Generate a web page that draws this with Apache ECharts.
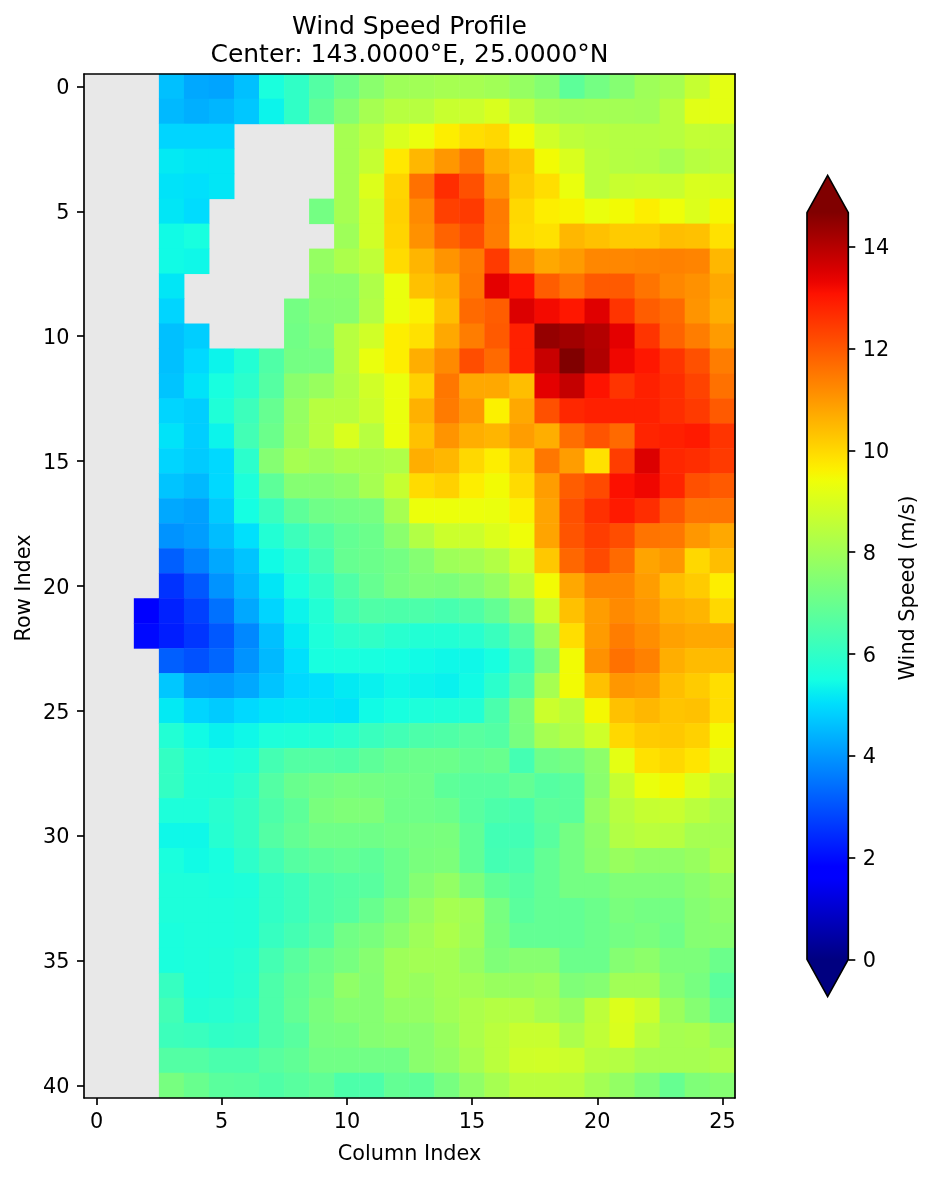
<!DOCTYPE html>
<html>
<head>
<meta charset="utf-8">
<title>Wind Speed Profile</title>
<script src="https://cdn.jsdelivr.net/npm/echarts@6/dist/echarts.min.js"></script>
<style>
html, body { margin: 0; padding: 0; background: #fff; }
#main { width: 932px; height: 1177px; }
</style>
</head>
<body>
<div id="main"></div>
<script>
var n = null;
var titleText = 'Wind Speed Profile\nCenter: 143.0000°E, 25.0000°N';
var xName = 'Column Index';
var yName = 'Row Index';
var barName = 'Wind Speed (m/s)';
var vmin = 0;
var vmax = 14.67;
var barTicks = [0, 2, 4, 6, 8, 10, 12, 14];
var columns = [];
for (var c = 0; c < 26; c++) columns.push(String(c));
var rowNames = [];
for (var r = 0; r < 41; r++) rowNames.push(String(r));

// wind speed by row (null = no data)
var windSpeed = [
  [n,n,n,4.6,4.25,4.2,4.6,5.6,6.0,6.6,7.1,7.6,7.95,8.0,8.1,8.1,8.0,7.8,7.5,6.8,7.2,7.5,7.95,8.1,8.65,9.2],
  [n,n,n,4.5,4.35,4.45,4.7,5.35,6.0,6.85,7.5,8.1,8.4,8.4,8.7,8.75,9.0,8.5,8.1,8.0,8.05,8.05,8.0,8.4,9.15,9.2],
  [n,n,n,4.9,4.9,4.9,n,n,n,n,8.1,8.5,9.0,9.3,9.65,9.9,10.0,9.45,8.85,8.5,8.4,8.35,8.35,8.4,8.6,8.55],
  [n,n,n,5.2,5.15,5.15,n,n,n,n,8.1,8.65,9.75,10.5,11.0,11.5,10.6,10.3,9.45,9.0,8.45,8.35,8.3,8.1,8.4,8.5],
  [n,n,n,5.1,5.05,5.15,n,n,n,n,8.1,9.05,10.05,11.6,12.65,12.1,11.05,10.2,9.9,9.3,8.45,8.7,8.75,8.7,9.0,8.95],
  [n,n,n,5.15,5.0,n,n,n,n,7.2,8.1,8.85,10.1,11.2,12.35,12.45,11.45,10.0,9.65,9.55,9.3,9.45,9.65,9.4,9.05,9.5],
  [n,n,n,5.45,5.55,n,n,n,n,n,7.95,8.85,10.05,11.1,11.8,12.15,11.4,9.95,9.85,10.5,10.35,10.2,10.2,10.4,10.35,9.85],
  [n,n,n,5.45,5.4,n,n,n,n,7.8,8.2,8.55,9.95,10.55,11.05,11.45,12.45,11.2,10.75,10.95,11.25,11.25,11.3,11.35,11.3,10.5],
  [n,n,n,5.15,n,n,n,n,n,7.6,7.6,8.25,9.3,10.35,10.6,11.5,13.4,13.05,11.9,11.55,11.95,11.95,11.55,11.25,11.1,10.75],
  [n,n,n,4.9,n,n,n,n,7.2,7.5,7.55,8.3,9.3,9.6,10.4,11.7,11.9,13.5,13.2,13.0,13.45,12.55,11.9,11.7,11.05,10.65],
  [n,n,n,4.6,4.8,n,n,n,7.15,7.4,8.4,8.85,9.65,9.85,10.75,11.4,11.95,12.85,14.4,14.25,14.0,13.4,12.55,11.8,11.4,10.95],
  [n,n,n,4.6,4.95,5.35,5.75,6.55,7.2,7.2,8.4,9.3,9.65,10.65,11.2,12.15,11.7,12.85,13.75,14.67,14.05,13.25,13.0,12.55,12.1,11.4],
  [n,n,n,4.65,5.1,5.55,5.9,6.65,7.6,7.85,8.3,8.85,9.3,10.1,11.5,10.75,10.75,10.4,13.4,13.8,13.05,12.55,12.85,12.65,12.3,11.6],
  [n,n,n,4.9,4.8,5.7,6.2,6.95,7.8,8.4,8.4,8.75,9.3,10.6,11.45,11.0,9.6,10.75,12.1,12.75,12.85,12.85,12.85,12.65,12.45,11.95],
  [n,n,n,5.1,4.8,5.35,6.3,7.05,7.85,8.4,9.0,8.4,9.3,10.35,11.05,10.65,10.55,10.9,10.65,11.65,12.05,11.7,12.8,12.85,12.95,12.55],
  [n,n,n,4.9,4.75,4.95,5.9,7.5,8.1,7.95,8.15,8.15,8.25,10.65,10.5,10.0,9.65,10.2,11.5,10.9,9.85,12.4,13.5,12.75,12.65,12.45],
  [n,n,n,4.65,4.5,4.95,5.65,6.8,7.5,7.5,7.65,8.1,8.65,9.95,10.1,9.65,9.45,9.95,10.9,11.9,12.2,13.1,13.25,12.8,12.1,11.95],
  [n,n,n,4.25,4.15,4.75,5.5,6.15,6.8,7.1,7.2,7.25,8.1,9.35,9.35,9.35,9.3,9.6,10.8,12.1,12.6,12.95,12.65,12.0,11.55,11.55],
  [n,n,n,3.95,4.1,4.55,5.05,5.75,6.2,6.55,6.9,7.05,7.6,8.3,8.75,8.75,9.05,9.4,10.8,12.05,12.4,12.15,11.55,11.5,11.0,10.75],
  [n,n,n,3.2,3.7,4.25,4.65,5.45,5.8,6.3,6.95,7.05,7.2,7.5,7.95,8.05,8.3,8.9,10.25,11.75,12.2,11.7,10.8,11.0,10.0,10.4],
  [n,n,n,2.55,3.1,3.95,4.5,5.15,5.6,6.0,6.55,6.95,7.25,7.4,7.35,7.5,7.8,8.4,9.45,10.75,11.3,11.3,10.9,10.4,10.2,9.65],
  [n,n,1.75,2.3,2.75,3.45,4.25,4.9,5.35,5.75,6.3,6.55,6.5,6.5,6.4,6.55,6.9,7.5,8.75,10.35,10.9,11.2,11.0,10.65,10.55,10.0],
  [n,n,1.95,2.25,2.6,3.1,3.8,4.6,5.2,5.65,5.9,6.0,5.85,5.75,5.75,5.85,6.15,6.7,7.95,9.9,10.95,11.4,11.15,10.85,10.75,10.75],
  [n,n,n,3.2,3.0,3.3,3.95,4.5,5.05,5.55,5.6,5.55,5.5,5.45,5.4,5.4,5.55,6.2,7.4,9.45,11.1,11.6,11.35,10.65,10.45,10.45],
  [n,n,n,4.7,4.1,4.05,4.25,4.65,4.95,5.05,5.2,5.3,5.4,5.35,5.3,5.45,5.9,6.6,8.1,9.45,10.35,11.0,10.9,10.4,10.2,9.9],
  [n,n,n,5.2,4.9,4.75,4.95,5.1,5.15,5.15,5.1,5.45,5.55,5.65,5.7,5.75,6.45,7.3,8.75,8.45,9.5,10.35,10.5,10.3,10.35,9.9],
  [n,n,n,5.75,5.45,5.3,5.4,5.65,5.7,5.75,5.9,6.15,6.3,6.5,6.55,6.7,6.6,7.25,8.1,8.3,8.8,10.0,10.2,10.25,10.1,9.5],
  [n,n,n,6.05,5.7,5.6,5.7,6.35,6.6,6.6,6.55,6.8,7.0,7.05,7.05,6.9,7.0,6.35,7.1,7.2,7.65,9.2,9.85,10.0,9.8,9.15],
  [n,n,n,6.05,5.7,5.7,5.95,6.6,7.0,7.15,7.25,7.2,7.15,7.1,6.8,6.7,6.7,6.9,6.65,6.75,7.6,8.65,9.3,9.5,9.05,8.55],
  [n,n,n,5.65,5.65,5.85,6.05,6.5,6.8,7.3,7.4,7.4,7.1,7.1,7.05,6.7,6.5,6.4,6.8,6.75,7.8,8.4,8.65,8.7,8.45,8.2],
  [n,n,n,5.4,5.4,5.8,6.05,6.6,6.9,7.1,7.1,7.1,7.2,7.25,7.3,6.85,6.3,6.3,6.7,7.2,7.65,8.3,8.45,8.4,8.1,8.1],
  [n,n,n,5.6,5.45,5.55,5.95,6.3,6.65,6.8,6.9,6.8,7.05,7.3,7.35,6.85,6.35,6.45,6.9,7.2,7.6,7.85,7.7,7.7,7.85,8.2],
  [n,n,n,5.65,5.65,5.6,5.65,6.0,6.2,6.5,6.6,6.7,7.05,7.5,7.75,7.35,6.85,6.65,6.9,7.2,7.2,7.4,7.4,7.4,7.6,7.8],
  [n,n,n,5.65,5.65,5.65,5.7,6.0,6.2,6.5,6.65,7.0,7.35,7.8,8.1,8.0,7.25,6.75,6.9,6.9,7.05,7.3,7.2,7.2,7.5,7.65],
  [n,n,n,5.6,5.65,5.65,5.7,6.1,6.35,6.6,7.15,7.3,7.6,7.95,8.2,7.95,7.3,6.9,6.9,6.9,7.05,7.2,7.3,7.1,7.5,7.55],
  [n,n,n,5.6,5.65,5.7,5.8,6.35,6.7,7.05,7.25,7.55,7.95,8.05,8.05,7.8,7.4,7.55,7.55,7.05,7.05,7.5,7.65,7.35,7.35,7.05],
  [n,n,n,6.1,5.65,5.7,5.85,6.5,6.85,7.15,7.7,7.5,7.95,7.85,8.05,8.0,7.85,7.85,7.95,7.4,7.5,8.0,8.0,7.5,7.25,6.75],
  [n,n,n,6.3,5.75,5.8,5.95,6.5,6.9,7.3,7.5,7.5,7.75,7.8,8.0,8.2,8.35,8.35,8.1,7.85,8.5,9.05,8.75,7.9,7.5,7.0],
  [n,n,n,6.2,6.15,6.0,6.05,6.5,6.7,7.25,7.3,7.5,7.6,7.6,7.85,8.2,8.45,8.7,8.7,8.2,8.55,9.0,8.45,8.1,8.15,7.85],
  [n,n,n,6.6,6.6,6.45,6.45,6.7,6.85,7.15,7.15,7.15,7.15,7.6,7.75,8.1,8.45,8.8,8.85,8.75,8.4,8.35,8.1,8.1,8.1,8.2],
  [n,n,n,7.25,7.0,6.75,6.7,6.55,6.7,6.85,6.5,6.5,6.9,6.8,7.25,7.7,8.1,8.45,8.45,8.4,8.05,7.75,7.4,6.95,7.4,7.5]
];

// matplotlib jet segments
var jetR = [[0, 0], [0.35, 0], [0.66, 1], [0.89, 1], [1, 0.5]];
var jetG = [[0, 0], [0.125, 0], [0.375, 1], [0.64, 1], [0.91, 0], [1, 0]];
var jetB = [[0, 0.5], [0.11, 1], [0.34, 1], [0.65, 0], [1, 0]];

function seg(s, t) {
  for (var i = 1; i < s.length; i++) {
    if (t <= s[i][0]) {
      return s[i - 1][1] + (s[i][1] - s[i - 1][1]) * (t - s[i - 1][0]) / (s[i][0] - s[i - 1][0]);
    }
  }
  return s[s.length - 1][1];
}
function jet(t) {
  return 'rgb(' + Math.round(seg(jetR, t) * 255) + ',' + Math.round(seg(jetG, t) * 255) + ',' + Math.round(seg(jetB, t) * 255) + ')';
}
var jetColors = [];
for (var i = 0; i <= 256; i++) jetColors.push(jet(i / 256));

var cells = [];
windSpeed.forEach(function(row, y) {
  row.forEach(function(v, x) {
    if (v !== null) cells.push([x, y, v]);
  });
});

var font = 'DejaVu Sans';
var lw = 1.67;

function renderBar(params, api) {
  var top = api.coord([0, vmax]);
  var bottom = api.coord([1, vmin]);
  var x0 = top[0], x1 = bottom[0], y0 = top[1], y1 = bottom[1];
  var tip = (y1 - y0) * 0.05; // colorbar extendfrac
  var total = y1 - y0 + 2 * tip;
  var stops = [{ offset: 0, color: jet(1) }];
  for (var i = 0; i <= 64; i++) {
    var t = i / 64;
    stops.push({ offset: (tip + (1 - t) * (y1 - y0)) / total, color: jet(t) });
  }
  stops.push({ offset: 1, color: jet(0) });
  stops.sort(function(a, b) { return a.offset - b.offset; });
  return {
    type: 'polygon',
    shape: {
      points: [
        [x0, y0], [(x0 + x1) / 2, y0 - tip], [x1, y0],
        [x1, y1], [(x0 + x1) / 2, y1 + tip], [x0, y1]
      ]
    },
    style: {
      fill: new echarts.graphic.LinearGradient(0, 0, 0, 1, stops),
      stroke: '#000',
      lineWidth: lw
    }
  };
}

var tickStyle = { color: '#000', width: lw };
var labelStyle = { fontFamily: font, fontSize: 20.8, color: '#000' };
// digits sit a bit high in the text box, this centres them on the tick
var yLabelStyle = { margin: 14.5, verticalAlign: 'top', lineHeight: 4.6, fontFamily: font, fontSize: 20.8, color: '#000' };

var chart = echarts.init(document.getElementById('main'), null, { renderer: 'canvas' });
chart.setOption({
  animation: false,
  backgroundColor: '#fff',
  title: {
    text: titleText,
    left: 404.5,
    top: 8,
    textAlign: 'center',
    textStyle: { fontFamily: font, fontWeight: 'normal', fontSize: 25, lineHeight: 28.5, color: '#000' }
  },
  grid: [
    { left: 84, top: 74, width: 651, height: 1024, show: true, backgroundColor: '#e8e8e8', borderWidth: 0 },
    { left: 807, top: 212.7, width: 41.3, height: 746.6 }
  ],
  xAxis: [
    {
      gridIndex: 0, type: 'category', data: columns, z: 5,
      name: xName, nameLocation: 'middle', nameGap: 46,
      nameTextStyle: labelStyle,
      axisLine: { lineStyle: tickStyle },
      axisTick: { show: true, interval: 4, alignWithLabel: true, length: 7, lineStyle: tickStyle },
      axisLabel: Object.assign({ interval: 4, margin: 14.5 }, labelStyle),
      splitLine: { show: false }
    },
    {
      gridIndex: 0, type: 'category', data: columns, position: 'top', z: 5,
      axisLine: { lineStyle: tickStyle },
      axisTick: { show: false }, axisLabel: { show: false }, splitLine: { show: false }
    },
    { gridIndex: 1, type: 'value', min: 0, max: 1, show: false }
  ],
  yAxis: [
    {
      gridIndex: 0, type: 'category', data: rowNames, inverse: true, z: 5,
      name: yName, nameLocation: 'middle', nameGap: 48.5, nameRotate: 90, nameMoveOverlap: false,
      nameTextStyle: Object.assign({ padding: [0, 4, 0, 0] }, labelStyle),
      axisLine: { lineStyle: tickStyle },
      axisTick: { show: true, interval: 4, alignWithLabel: true, length: 7, lineStyle: tickStyle },
      axisLabel: Object.assign({ interval: 4 }, yLabelStyle),
      splitLine: { show: false }
    },
    {
      gridIndex: 0, type: 'category', data: rowNames, inverse: true, position: 'right', z: 5,
      axisLine: { lineStyle: tickStyle },
      axisTick: { show: false }, axisLabel: { show: false }, splitLine: { show: false }
    },
    {
      gridIndex: 1, type: 'value', position: 'right', min: vmin, max: vmax, z: 5,
      name: barName, nameLocation: 'middle', nameGap: 50, nameRotate: 90,
      nameTextStyle: Object.assign({ padding: [0, 4, 0, 0] }, labelStyle),
      axisLine: { show: false, onZero: false },
      axisTick: { show: true, customValues: barTicks, length: 7, lineStyle: tickStyle },
      axisLabel: Object.assign({ customValues: barTicks }, yLabelStyle),
      splitLine: { show: false }
    }
  ],
  visualMap: {
    show: false, type: 'continuous', seriesIndex: 0, dimension: 2,
    min: vmin, max: vmax, inRange: { color: jetColors }
  },
  series: [
    {
      type: 'heatmap', xAxisIndex: 0, yAxisIndex: 0, data: cells,
      progressive: 0, silent: true, itemStyle: { borderWidth: 0 }, emphasis: { disabled: true }
    },
    {
      type: 'custom', xAxisIndex: 2, yAxisIndex: 2, coordinateSystem: 'cartesian2d',
      clip: false, silent: true, data: [[0, vmin]], renderItem: renderBar
    }
  ]
});
</script>
</body>
</html>
